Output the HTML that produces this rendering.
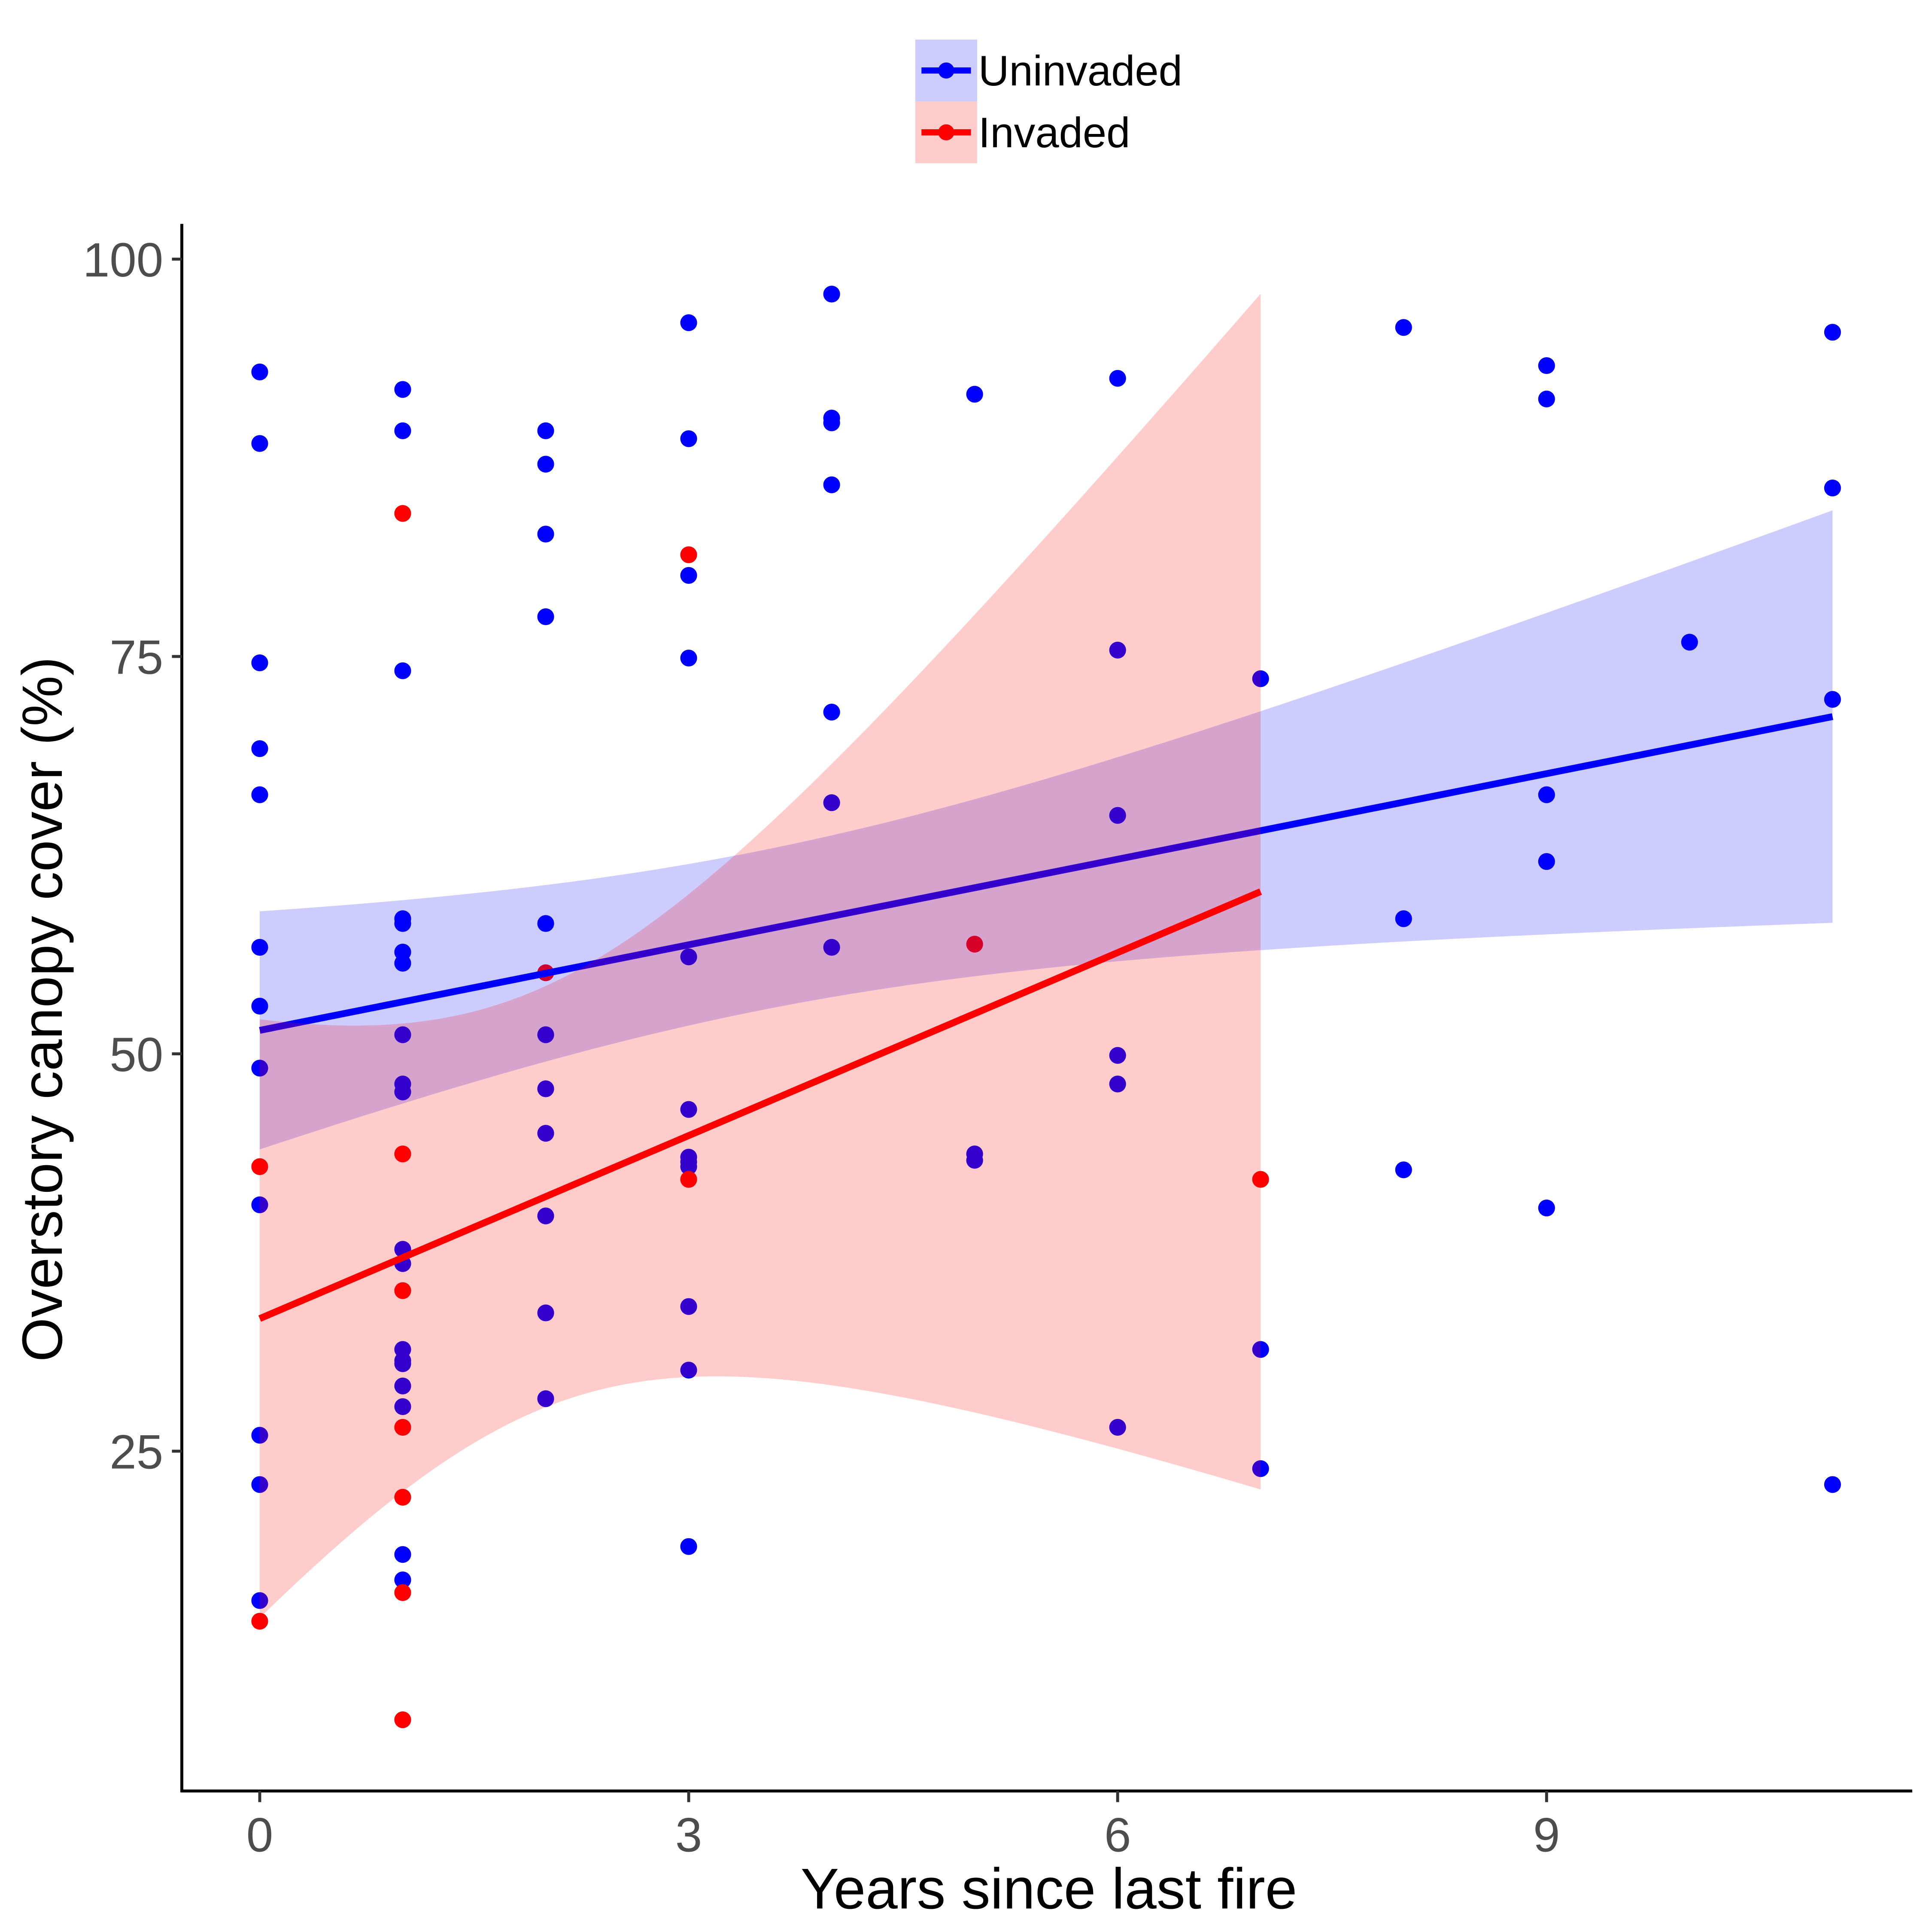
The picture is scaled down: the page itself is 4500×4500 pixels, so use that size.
<!DOCTYPE html>
<html><head><meta charset="utf-8"><style>html,body{margin:0;padding:0;background:#fff}svg{display:block}</style></head>
<body>
<svg id="chart" xmlns="http://www.w3.org/2000/svg" width="4500" height="4500" viewBox="0 0 1562 1562" font-family="'Liberation Sans', Arial, sans-serif">
<rect width="1562" height="1562" fill="#fff"/>
<g id="points"></g><g id="smooth"></g>
<g>
<line x1="147" y1="181" x2="147" y2="1449" stroke="#000" stroke-width="2.4"/>
<g id="yticks"></g></g>
<g>
<line x1="146" y1="1448" x2="1546" y2="1448" stroke="#000" stroke-width="2.4"/>
<g id="xticks"></g></g>
<text x="848" y="1543" font-size="46.5" text-anchor="middle" fill="#000">Years since last fire</text>
<text transform="translate(50,816) rotate(-90)" font-size="46" text-anchor="middle" fill="#000">Overstory canopy cover (%)</text>
<g>
<g>
<rect x="740" y="32" width="50" height="50" fill="#0000ff" fill-opacity="0.2"/>
<line x1="745" y1="57" x2="785" y2="57" stroke="#0000ff" stroke-width="5"/>
<circle cx="765" cy="57" r="6.5" fill="#0000ff"/>
<text x="791" y="69" font-size="34.5" fill="#000">Uninvaded</text></g>
<g>
<rect x="740" y="82" width="50" height="50" fill="#ff0000" fill-opacity="0.2"/>
<line x1="745" y1="107" x2="785" y2="107" stroke="#ff0000" stroke-width="5"/>
<circle cx="765" cy="107" r="6.5" fill="#ff0000"/>
<text x="791" y="119" font-size="34.5" fill="#000">Invaded</text></g>
</g>
</svg>
<script>
const blueX=[0,0,0,0,0,0,0,0,0,0,0,0, 1,1,1,1,1,1,1,1,1,1,1,1,1,1,1,1,1,1,1, 2,2,2,2,2,2,2,2,2,2,2, 3,3,3,3,3,3,3,3,3,3,3,3, 4,4,4,4,4,4,4, 5,5,5, 6,6,6,6,6,6, 7,7,7, 8,8,8, 9,9,9,9,9, 10, 11,11,11,11];
const blueY=[92.9,88.4,74.6,69.2,66.3,56.7,53.0,49.1,40.5,26.0,22.9,15.6,
91.8,89.2,74.1,58.5,58.2,56.4,55.7,51.2,48.1,47.6,37.7,36.8,31.4,30.7,30.5,29.1,27.8,18.5,16.9,
89.2,87.1,82.7,77.5,58.2,51.2,47.8,45.0,39.8,33.7,28.3,
96.0,88.7,80.1,74.9,56.1,46.5,43.5,43.2,42.9,34.1,30.1,19.0,
97.8,90.0,89.7,85.8,71.5,65.8,56.7,
91.5,43.7,43.3,
92.5,75.4,65.0,49.9,48.1,26.5,
73.6,31.4,23.9,
95.7,58.5,42.7,
93.3,91.2,66.3,62.1,40.3,
75.9,
95.4,85.6,72.3,22.9];
const redX=[0,0,1,1,1,1,1,1,1,2,3,3,5,7];
const redY=[42.9,14.3,84.0,43.7,35.1,26.5,22.1,16.1,8.1,55.1,81.4,42.1,56.9,42.1];
const xTicks=[0,3,6,9];
const yTicks=[25,50,75,100];

const NS="http://www.w3.org/2000/svg";
const sx=v=>210+v*115.6;
const sy=v=>852-(v-50)*12.85;
function mk(tag,attrs,parent){const e=document.createElementNS(NS,tag);for(const k in attrs)e.setAttribute(k,attrs[k]);parent.appendChild(e);return e;}

const pts=document.getElementById('points');
blueX.forEach((x,i)=>{const c=mk('circle',{cx:sx(x),cy:sy(blueY[i]),r:6.8,fill:'#0000ff'},pts);

});
redX.forEach((x,i)=>{const c=mk('circle',{cx:sx(x),cy:sy(redY[i]),r:6.8,fill:'#ff0000'},pts);

});

function tq(df){const z=1.959964;return z+(z**3+z)/(4*df)+(5*z**5+16*z**3+3*z)/(96*df*df);}
function fit(X,Y){const n=X.length;const mx=X.reduce((a,b)=>a+b)/n,my=Y.reduce((a,b)=>a+b)/n;
let sxx=0,sxy=0;X.forEach((x,i)=>{sxx+=(x-mx)**2;sxy+=(x-mx)*(Y[i]-my);});
const b=sxy/sxx,a=my-b*mx;let sse=0;X.forEach((x,i)=>{sse+=(Y[i]-a-b*x)**2;});
const s=Math.sqrt(sse/(n-2));return {a,b,s,n,mx,sxx,t:tq(n-2),lo:Math.min(...X),hi:Math.max(...X)};}
const sm=document.getElementById('smooth');
function draw(X,Y,col,name){const f=fit(X,Y);const up=[],dn=[],ln=[];
for(let k=0;k<=80;k++){const x=f.lo+(f.hi-f.lo)*k/80;const m=f.a+f.b*x;
const hw=f.t*f.s*Math.sqrt(1/f.n+(x-f.mx)**2/f.sxx);
up.push(sx(x).toFixed(2)+','+sy(m+hw).toFixed(2));dn.unshift(sx(x).toFixed(2)+','+sy(m-hw).toFixed(2));ln.push(sx(x).toFixed(2)+','+sy(m).toFixed(2));}
const r=mk('polygon',{points:up.concat(dn).join(' '),fill:col,'fill-opacity':0.2},sm);


const l=mk('polyline',{points:ln.join(' '),fill:'none',stroke:col,'stroke-width':5.5},sm);

}
draw(blueX,blueY,'#0000ff','uninvaded');
draw(redX,redY,'#ff0000','invaded');

const yt=document.getElementById('yticks');
yTicks.forEach(v=>{mk('line',{x1:139,x2:147,y1:sy(v),y2:sy(v),stroke:'#333','stroke-width':2.4},yt);
const t=mk('text',{x:132,y:sy(v)+14,'font-size':39,'text-anchor':'end',fill:'#4d4d4d'},yt);t.textContent=v;

});
const xt=document.getElementById('xticks');
xTicks.forEach(v=>{mk('line',{x1:sx(v),x2:sx(v),y1:1448,y2:1457,stroke:'#333','stroke-width':2.4},xt);
const t=mk('text',{x:sx(v),y:1497,'font-size':39,'text-anchor':'middle',fill:'#4d4d4d'},xt);t.textContent=v;

});
</script>
</body></html>
